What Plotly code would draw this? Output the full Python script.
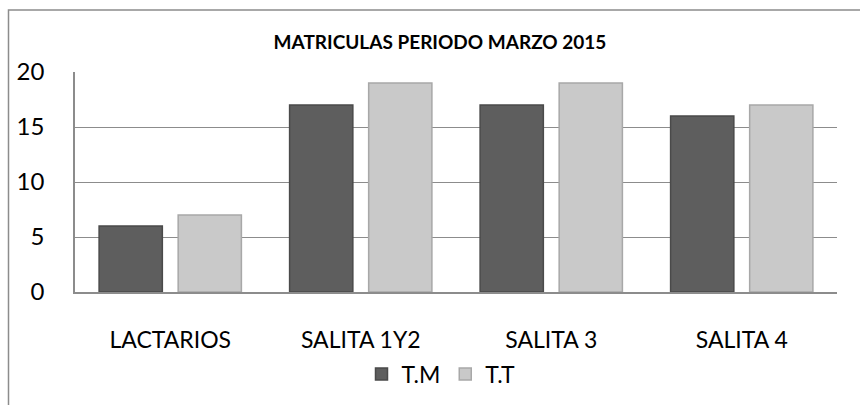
import plotly.graph_objects as go

categories = ["LACTARIOS", "SALITA 1Y2", "SALITA 3", "SALITA 4"]
tm_values = [6, 17, 17, 16]
tt_values = [7, 19, 19, 17]
series_names = ["T.M", "T.T"]
y_ticks = [0, 5, 10, 15, 20]
title_text = "MATRICULAS PERIODO MARZO 2015"

FONT = "Lato, 'Liberation Sans', sans-serif"

fig = go.Figure()
fig.add_trace(go.Bar(
    x=categories, y=tm_values, name=series_names[0],
    marker=dict(color="#5e5e5e", line=dict(color="#4a4a4a", width=1.5)),
))
fig.add_trace(go.Bar(
    x=categories, y=tt_values, name=series_names[1],
    marker=dict(color="#c9c9c9", line=dict(color="#a8a8a8", width=1.5)),
))

W, H = 860, 405
L, R, T, B = 75, 23, 72, 113
pw, ph = W - L - R, H - T - B

def px_x(p):
    return (p - L) / pw

def px_y(p):
    return (H - B - p) / ph

fig.update_layout(
    width=W, height=H,
    margin=dict(l=L, r=R, t=T, b=B, autoexpand=False),
    paper_bgcolor="white", plot_bgcolor="white",
    barmode="group", bargap=0.17, bargroupgap=0.2,
    title=dict(text="<b>" + title_text + "</b>", x=440 / W, xanchor="center",
               y=1 - 42 / H, yanchor="middle",
               font=dict(family=FONT, size=19, color="black")),
    font=dict(family=FONT, color="black"),
    legend=dict(orientation="h", x=px_x(441), xanchor="center",
                y=px_y(374), yanchor="middle",
                font=dict(family=FONT, size=23, color="black"),
                itemwidth=30, tracegroupgap=0),
    showlegend=True,
)
fig.update_yaxes(
    range=[0, 20], tickvals=y_ticks, showgrid=True, gridcolor="#8c8c8c", gridwidth=1,
    showline=True, linecolor="#8c8c8c", linewidth=1.5, zeroline=False,
    tickfont=dict(family=FONT, size=24, color="black"), ticklabelstandoff=24,
)
fig.update_xaxes(
    showline=True, linecolor="#8c8c8c", linewidth=1.5,
    tickfont=dict(family=FONT, size=23, color="black"), ticklabelstandoff=27,
)
# Chart frame (cropped at right and bottom)
fig.add_shape(type="rect", xref="paper", yref="paper",
              x0=px_x(8.5), x1=px_x(866), y0=px_y(415), y1=px_y(10),
              line=dict(color="#8c8c8c", width=1.5), fillcolor="rgba(0,0,0,0)",
              layer="below")

fig.write_html("out.html", config={"displayModeBar": False},
               post_script="document.body.style.margin='0';document.body.style.overflow='hidden';")
